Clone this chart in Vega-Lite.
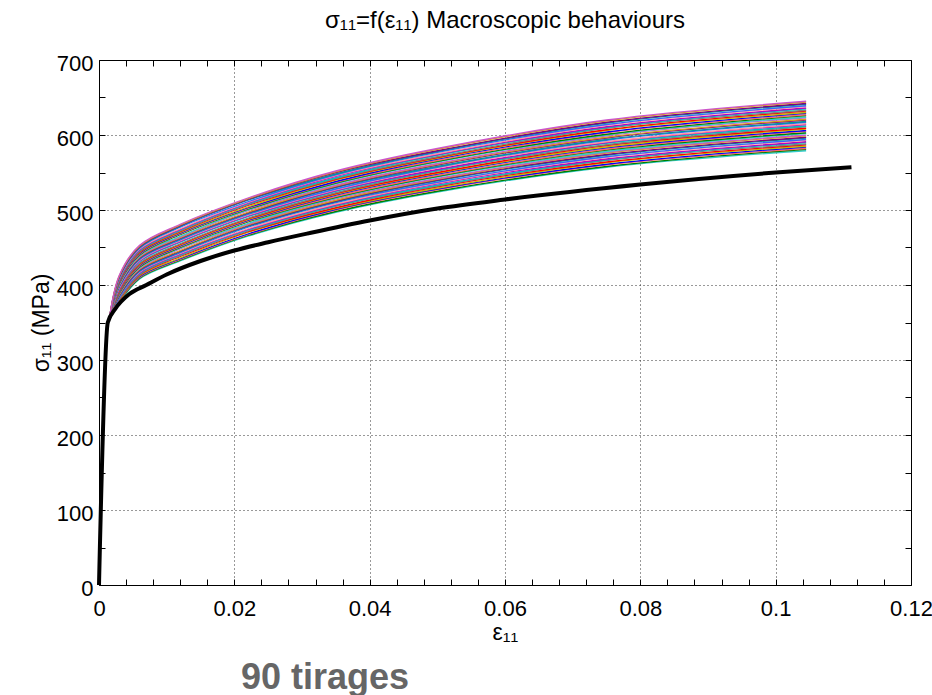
{
"$schema": "https://vega.github.io/schema/vega-lite/v6.json",
"width": 812, "height": 525,
"autosize": "none",
"padding": {"left": 99, "top": 60, "right": 21, "bottom": 110},
"background": "white",
"title": {"text": "σ₁₁=f(ε₁₁) Macroscopic behaviours", "fontSize": 24, "font": "Liberation Sans", "fontWeight": "normal", "color": "black", "offset": 19, "anchor": "middle"},
"config": {"view": {"stroke": null}, "axis": {"labelFont": "Liberation Sans", "titleFont": "Liberation Sans", "labelColor": "black", "titleColor": "black", "domainColor": "black", "tickColor": "black", "domainWidth": 1, "tickWidth": 1}},
"datasets": {
"runs": [
{"c":0,"x":0.0015,"y":353},{"c":0,"x":0.003,"y":376},{"c":0,"x":0.006,"y":408},{"c":0,"x":0.012,"y":432},{"c":0,"x":0.022,"y":465},{"c":0,"x":0.035,"y":497},{"c":0,"x":0.05,"y":524},{"c":0,"x":0.075,"y":557},{"c":0,"x":0.1045,"y":579},
{"c":1,"x":0.0015,"y":353},{"c":1,"x":0.003,"y":377},{"c":1,"x":0.006,"y":409},{"c":1,"x":0.012,"y":433},{"c":1,"x":0.022,"y":466},{"c":1,"x":0.035,"y":498},{"c":1,"x":0.05,"y":525},{"c":1,"x":0.075,"y":558},{"c":1,"x":0.1045,"y":581},
{"c":2,"x":0.0015,"y":353},{"c":2,"x":0.003,"y":378},{"c":2,"x":0.006,"y":410},{"c":2,"x":0.012,"y":434},{"c":2,"x":0.022,"y":467},{"c":2,"x":0.035,"y":500},{"c":2,"x":0.05,"y":527},{"c":2,"x":0.075,"y":560},{"c":2,"x":0.1045,"y":582},
{"c":3,"x":0.0015,"y":353},{"c":3,"x":0.003,"y":379},{"c":3,"x":0.006,"y":411},{"c":3,"x":0.012,"y":435},{"c":3,"x":0.022,"y":468},{"c":3,"x":0.035,"y":501},{"c":3,"x":0.05,"y":528},{"c":3,"x":0.075,"y":561},{"c":3,"x":0.1045,"y":584},
{"c":4,"x":0.0015,"y":353},{"c":4,"x":0.003,"y":379},{"c":4,"x":0.006,"y":412},{"c":4,"x":0.012,"y":436},{"c":4,"x":0.022,"y":470},{"c":4,"x":0.035,"y":502},{"c":4,"x":0.05,"y":529},{"c":4,"x":0.075,"y":563},{"c":4,"x":0.1045,"y":585},
{"c":5,"x":0.0015,"y":353},{"c":5,"x":0.003,"y":380},{"c":5,"x":0.006,"y":413},{"c":5,"x":0.012,"y":438},{"c":5,"x":0.022,"y":471},{"c":5,"x":0.035,"y":503},{"c":5,"x":0.05,"y":531},{"c":5,"x":0.075,"y":564},{"c":5,"x":0.1045,"y":587},
{"c":6,"x":0.0015,"y":353},{"c":6,"x":0.003,"y":381},{"c":6,"x":0.006,"y":414},{"c":6,"x":0.012,"y":439},{"c":6,"x":0.022,"y":472},{"c":6,"x":0.035,"y":505},{"c":6,"x":0.05,"y":532},{"c":6,"x":0.075,"y":566},{"c":6,"x":0.1045,"y":588},
{"c":7,"x":0.0015,"y":353},{"c":7,"x":0.003,"y":382},{"c":7,"x":0.006,"y":415},{"c":7,"x":0.012,"y":440},{"c":7,"x":0.022,"y":473},{"c":7,"x":0.035,"y":506},{"c":7,"x":0.05,"y":533},{"c":7,"x":0.075,"y":567},{"c":7,"x":0.1045,"y":590},
{"c":8,"x":0.0015,"y":353},{"c":8,"x":0.003,"y":383},{"c":8,"x":0.006,"y":416},{"c":8,"x":0.012,"y":441},{"c":8,"x":0.022,"y":474},{"c":8,"x":0.035,"y":507},{"c":8,"x":0.05,"y":535},{"c":8,"x":0.075,"y":568},{"c":8,"x":0.1045,"y":591},
{"c":9,"x":0.0015,"y":353},{"c":9,"x":0.003,"y":384},{"c":9,"x":0.006,"y":417},{"c":9,"x":0.012,"y":442},{"c":9,"x":0.022,"y":475},{"c":9,"x":0.035,"y":508},{"c":9,"x":0.05,"y":536},{"c":9,"x":0.075,"y":570},{"c":9,"x":0.1045,"y":593},
{"c":10,"x":0.0015,"y":353},{"c":10,"x":0.003,"y":384},{"c":10,"x":0.006,"y":418},{"c":10,"x":0.012,"y":443},{"c":10,"x":0.022,"y":477},{"c":10,"x":0.035,"y":510},{"c":10,"x":0.05,"y":537},{"c":10,"x":0.075,"y":571},{"c":10,"x":0.1045,"y":594},
{"c":11,"x":0.0015,"y":353},{"c":11,"x":0.003,"y":385},{"c":11,"x":0.006,"y":419},{"c":11,"x":0.012,"y":444},{"c":11,"x":0.022,"y":478},{"c":11,"x":0.035,"y":511},{"c":11,"x":0.05,"y":539},{"c":11,"x":0.075,"y":573},{"c":11,"x":0.1045,"y":596},
{"c":12,"x":0.0015,"y":353},{"c":12,"x":0.003,"y":386},{"c":12,"x":0.006,"y":420},{"c":12,"x":0.012,"y":445},{"c":12,"x":0.022,"y":479},{"c":12,"x":0.035,"y":512},{"c":12,"x":0.05,"y":540},{"c":12,"x":0.075,"y":574},{"c":12,"x":0.1045,"y":597},
{"c":13,"x":0.0015,"y":353},{"c":13,"x":0.003,"y":387},{"c":13,"x":0.006,"y":421},{"c":13,"x":0.012,"y":446},{"c":13,"x":0.022,"y":480},{"c":13,"x":0.035,"y":513},{"c":13,"x":0.05,"y":541},{"c":13,"x":0.075,"y":576},{"c":13,"x":0.1045,"y":599},
{"c":14,"x":0.0015,"y":353},{"c":14,"x":0.003,"y":388},{"c":14,"x":0.006,"y":422},{"c":14,"x":0.012,"y":448},{"c":14,"x":0.022,"y":481},{"c":14,"x":0.035,"y":515},{"c":14,"x":0.05,"y":542},{"c":14,"x":0.075,"y":577},{"c":14,"x":0.1045,"y":600},
{"c":15,"x":0.0015,"y":353},{"c":15,"x":0.003,"y":389},{"c":15,"x":0.006,"y":423},{"c":15,"x":0.012,"y":449},{"c":15,"x":0.022,"y":482},{"c":15,"x":0.035,"y":516},{"c":15,"x":0.05,"y":544},{"c":15,"x":0.075,"y":578},{"c":15,"x":0.1045,"y":602},
{"c":16,"x":0.0015,"y":353},{"c":16,"x":0.003,"y":389},{"c":16,"x":0.006,"y":424},{"c":16,"x":0.012,"y":450},{"c":16,"x":0.022,"y":484},{"c":16,"x":0.035,"y":517},{"c":16,"x":0.05,"y":545},{"c":16,"x":0.075,"y":580},{"c":16,"x":0.1045,"y":603},
{"c":17,"x":0.0015,"y":353},{"c":17,"x":0.003,"y":390},{"c":17,"x":0.006,"y":425},{"c":17,"x":0.012,"y":451},{"c":17,"x":0.022,"y":485},{"c":17,"x":0.035,"y":518},{"c":17,"x":0.05,"y":546},{"c":17,"x":0.075,"y":581},{"c":17,"x":0.1045,"y":605},
{"c":18,"x":0.0015,"y":353},{"c":18,"x":0.003,"y":391},{"c":18,"x":0.006,"y":426},{"c":18,"x":0.012,"y":452},{"c":18,"x":0.022,"y":486},{"c":18,"x":0.035,"y":520},{"c":18,"x":0.05,"y":548},{"c":18,"x":0.075,"y":583},{"c":18,"x":0.1045,"y":606},
{"c":19,"x":0.0015,"y":353},{"c":19,"x":0.003,"y":392},{"c":19,"x":0.006,"y":427},{"c":19,"x":0.012,"y":453},{"c":19,"x":0.022,"y":487},{"c":19,"x":0.035,"y":521},{"c":19,"x":0.05,"y":549},{"c":19,"x":0.075,"y":584},{"c":19,"x":0.1045,"y":608},
{"c":20,"x":0.0015,"y":353},{"c":20,"x":0.003,"y":393},{"c":20,"x":0.006,"y":428},{"c":20,"x":0.012,"y":454},{"c":20,"x":0.022,"y":488},{"c":20,"x":0.035,"y":522},{"c":20,"x":0.05,"y":550},{"c":20,"x":0.075,"y":586},{"c":20,"x":0.1045,"y":609},
{"c":21,"x":0.0015,"y":353},{"c":21,"x":0.003,"y":394},{"c":21,"x":0.006,"y":429},{"c":21,"x":0.012,"y":455},{"c":21,"x":0.022,"y":489},{"c":21,"x":0.035,"y":523},{"c":21,"x":0.05,"y":552},{"c":21,"x":0.075,"y":587},{"c":21,"x":0.1045,"y":611},
{"c":22,"x":0.0015,"y":353},{"c":22,"x":0.003,"y":395},{"c":22,"x":0.006,"y":431},{"c":22,"x":0.012,"y":457},{"c":22,"x":0.022,"y":491},{"c":22,"x":0.035,"y":525},{"c":22,"x":0.05,"y":553},{"c":22,"x":0.075,"y":589},{"c":22,"x":0.1045,"y":612},
{"c":23,"x":0.0015,"y":353},{"c":23,"x":0.003,"y":395},{"c":23,"x":0.006,"y":432},{"c":23,"x":0.012,"y":458},{"c":23,"x":0.022,"y":492},{"c":23,"x":0.035,"y":526},{"c":23,"x":0.05,"y":554},{"c":23,"x":0.075,"y":590},{"c":23,"x":0.1045,"y":614},
{"c":24,"x":0.0015,"y":353},{"c":24,"x":0.003,"y":396},{"c":24,"x":0.006,"y":433},{"c":24,"x":0.012,"y":459},{"c":24,"x":0.022,"y":493},{"c":24,"x":0.035,"y":527},{"c":24,"x":0.05,"y":556},{"c":24,"x":0.075,"y":591},{"c":24,"x":0.1045,"y":615},
{"c":25,"x":0.0015,"y":353},{"c":25,"x":0.003,"y":397},{"c":25,"x":0.006,"y":434},{"c":25,"x":0.012,"y":460},{"c":25,"x":0.022,"y":494},{"c":25,"x":0.035,"y":528},{"c":25,"x":0.05,"y":557},{"c":25,"x":0.075,"y":593},{"c":25,"x":0.1045,"y":617},
{"c":26,"x":0.0015,"y":353},{"c":26,"x":0.003,"y":398},{"c":26,"x":0.006,"y":435},{"c":26,"x":0.012,"y":461},{"c":26,"x":0.022,"y":495},{"c":26,"x":0.035,"y":530},{"c":26,"x":0.05,"y":558},{"c":26,"x":0.075,"y":594},{"c":26,"x":0.1045,"y":618},
{"c":27,"x":0.0015,"y":353},{"c":27,"x":0.003,"y":399},{"c":27,"x":0.006,"y":436},{"c":27,"x":0.012,"y":462},{"c":27,"x":0.022,"y":496},{"c":27,"x":0.035,"y":531},{"c":27,"x":0.05,"y":560},{"c":27,"x":0.075,"y":596},{"c":27,"x":0.1045,"y":620},
{"c":28,"x":0.0015,"y":353},{"c":28,"x":0.003,"y":400},{"c":28,"x":0.006,"y":437},{"c":28,"x":0.012,"y":463},{"c":28,"x":0.022,"y":497},{"c":28,"x":0.035,"y":532},{"c":28,"x":0.05,"y":561},{"c":28,"x":0.075,"y":597},{"c":28,"x":0.1045,"y":621},
{"c":29,"x":0.0015,"y":353},{"c":29,"x":0.003,"y":400},{"c":29,"x":0.006,"y":438},{"c":29,"x":0.012,"y":464},{"c":29,"x":0.022,"y":499},{"c":29,"x":0.035,"y":533},{"c":29,"x":0.05,"y":562},{"c":29,"x":0.075,"y":599},{"c":29,"x":0.1045,"y":623},
{"c":30,"x":0.0015,"y":353},{"c":30,"x":0.003,"y":401},{"c":30,"x":0.006,"y":439},{"c":30,"x":0.012,"y":465},{"c":30,"x":0.022,"y":500},{"c":30,"x":0.035,"y":535},{"c":30,"x":0.05,"y":564},{"c":30,"x":0.075,"y":600},{"c":30,"x":0.1045,"y":624},
{"c":31,"x":0.0015,"y":353},{"c":31,"x":0.003,"y":402},{"c":31,"x":0.006,"y":440},{"c":31,"x":0.012,"y":467},{"c":31,"x":0.022,"y":501},{"c":31,"x":0.035,"y":536},{"c":31,"x":0.05,"y":565},{"c":31,"x":0.075,"y":601},{"c":31,"x":0.1045,"y":626},
{"c":32,"x":0.0015,"y":353},{"c":32,"x":0.003,"y":403},{"c":32,"x":0.006,"y":441},{"c":32,"x":0.012,"y":468},{"c":32,"x":0.022,"y":502},{"c":32,"x":0.035,"y":537},{"c":32,"x":0.05,"y":566},{"c":32,"x":0.075,"y":603},{"c":32,"x":0.1045,"y":627},
{"c":33,"x":0.0015,"y":353},{"c":33,"x":0.003,"y":404},{"c":33,"x":0.006,"y":442},{"c":33,"x":0.012,"y":469},{"c":33,"x":0.022,"y":503},{"c":33,"x":0.035,"y":538},{"c":33,"x":0.05,"y":568},{"c":33,"x":0.075,"y":604},{"c":33,"x":0.1045,"y":629},
{"c":34,"x":0.0015,"y":353},{"c":34,"x":0.003,"y":405},{"c":34,"x":0.006,"y":443},{"c":34,"x":0.012,"y":470},{"c":34,"x":0.022,"y":504},{"c":34,"x":0.035,"y":540},{"c":34,"x":0.05,"y":569},{"c":34,"x":0.075,"y":606},{"c":34,"x":0.1045,"y":630},
{"c":35,"x":0.0015,"y":353},{"c":35,"x":0.003,"y":405},{"c":35,"x":0.006,"y":444},{"c":35,"x":0.012,"y":471},{"c":35,"x":0.022,"y":506},{"c":35,"x":0.035,"y":541},{"c":35,"x":0.05,"y":570},{"c":35,"x":0.075,"y":607},{"c":35,"x":0.1045,"y":632},
{"c":36,"x":0.0015,"y":353},{"c":36,"x":0.003,"y":406},{"c":36,"x":0.006,"y":445},{"c":36,"x":0.012,"y":472},{"c":36,"x":0.022,"y":507},{"c":36,"x":0.035,"y":542},{"c":36,"x":0.05,"y":571},{"c":36,"x":0.075,"y":609},{"c":36,"x":0.1045,"y":633},
{"c":37,"x":0.0015,"y":353},{"c":37,"x":0.003,"y":407},{"c":37,"x":0.006,"y":446},{"c":37,"x":0.012,"y":473},{"c":37,"x":0.022,"y":508},{"c":37,"x":0.035,"y":543},{"c":37,"x":0.05,"y":573},{"c":37,"x":0.075,"y":610},{"c":37,"x":0.1045,"y":635},
{"c":38,"x":0.0015,"y":353},{"c":38,"x":0.003,"y":408},{"c":38,"x":0.006,"y":447},{"c":38,"x":0.012,"y":474},{"c":38,"x":0.022,"y":509},{"c":38,"x":0.035,"y":545},{"c":38,"x":0.05,"y":574},{"c":38,"x":0.075,"y":611},{"c":38,"x":0.1045,"y":636},
{"c":39,"x":0.0015,"y":353},{"c":39,"x":0.003,"y":409},{"c":39,"x":0.006,"y":448},{"c":39,"x":0.012,"y":475},{"c":39,"x":0.022,"y":510},{"c":39,"x":0.035,"y":546},{"c":39,"x":0.05,"y":575},{"c":39,"x":0.075,"y":613},{"c":39,"x":0.1045,"y":638},
{"c":40,"x":0.0015,"y":353},{"c":40,"x":0.003,"y":410},{"c":40,"x":0.006,"y":449},{"c":40,"x":0.012,"y":477},{"c":40,"x":0.022,"y":511},{"c":40,"x":0.035,"y":547},{"c":40,"x":0.05,"y":577},{"c":40,"x":0.075,"y":614},{"c":40,"x":0.1045,"y":639},
{"c":41,"x":0.0015,"y":353},{"c":41,"x":0.003,"y":410},{"c":41,"x":0.006,"y":450},{"c":41,"x":0.012,"y":478},{"c":41,"x":0.022,"y":513},{"c":41,"x":0.035,"y":548},{"c":41,"x":0.05,"y":578},{"c":41,"x":0.075,"y":616},{"c":41,"x":0.1045,"y":641},
{"c":42,"x":0.0015,"y":353},{"c":42,"x":0.003,"y":411},{"c":42,"x":0.006,"y":451},{"c":42,"x":0.012,"y":479},{"c":42,"x":0.022,"y":514},{"c":42,"x":0.035,"y":550},{"c":42,"x":0.05,"y":579},{"c":42,"x":0.075,"y":617},{"c":42,"x":0.1045,"y":642},
{"c":43,"x":0.0015,"y":353},{"c":43,"x":0.003,"y":412},{"c":43,"x":0.006,"y":452},{"c":43,"x":0.012,"y":480},{"c":43,"x":0.022,"y":515},{"c":43,"x":0.035,"y":551},{"c":43,"x":0.05,"y":581},{"c":43,"x":0.075,"y":619},{"c":43,"x":0.1045,"y":644},
{"c":44,"x":0.0015,"y":353},{"c":44,"x":0.003,"y":413},{"c":44,"x":0.006,"y":453},{"c":44,"x":0.012,"y":481},{"c":44,"x":0.022,"y":516},{"c":44,"x":0.035,"y":552},{"c":44,"x":0.05,"y":582},{"c":44,"x":0.075,"y":620},{"c":44,"x":0.1045,"y":645}
],
"mean": [
{"x":0,"y":0},{"x":0.0013,"y":350},{"x":0.0024,"y":368},{"x":0.0045,"y":388},{"x":0.007,"y":400},{"x":0.01,"y":414},{"x":0.015,"y":432},{"x":0.02,"y":446},{"x":0.025,"y":457},{"x":0.031,"y":469},{"x":0.04,"y":486},{"x":0.05,"y":502},{"x":0.06,"y":514},{"x":0.08,"y":534},{"x":0.1,"y":550},{"x":0.1112,"y":557}
],
"note": [{"label": "90 tirages"}]
},
"layer": [
{
"data": {"name": "runs"},
"mark": {"type": "line", "strokeWidth": 1.3, "interpolate": "catmull-rom"},
"encoding": {
"x": {"field": "x", "type": "quantitative", "scale": {"domain": [0, 0.12], "nice": false, "zero": false},
"axis": {"orient": "bottom", "values": [0,0.004,0.008,0.012,0.016,0.02,0.024,0.028,0.032,0.036,0.04,0.044,0.048,0.052,0.056,0.06,0.064,0.068,0.072,0.076,0.08,0.084,0.088,0.092,0.096,0.1,0.104,0.108,0.112,0.116,0.12],
"labelExpr": "indexof([0,0.02,0.04,0.06,0.08,0.1,0.12], datum.value) >= 0 ? format(datum.value, '~g') : ''",
"labelFontSize": 22, "labelPadding": 19, "labelFlush": false, "labelOverlap": false, "tickSize": -6,
"grid": true, "gridColor": "#333333", "gridDash": [1, 3], "gridWidth": 1,
"gridOpacity": {"condition": {"test": "indexof([0.02,0.04,0.06,0.08,0.1], datum.value) >= 0", "value": 1}, "value": 0},
"title": "ε₁₁", "titleFontSize": 23, "titleFontWeight": "normal", "titlePadding": 2}},
"y": {"field": "y", "type": "quantitative", "scale": {"domain": [0, 700], "nice": false, "zero": false},
"axis": {"orient": "left", "values": [0,50,100,150,200,250,300,350,400,450,500,550,600,650,700],
"labelExpr": "datum.value % 100 == 0 ? format(datum.value, 'd') : ''",
"labelFontSize": 22, "labelPadding": 12, "labelOffset": 3, "labelOverlap": false, "labelFlush": false, "tickSize": -6,
"grid": true, "gridColor": "#333333", "gridDash": [1, 3], "gridWidth": 1,
"gridOpacity": {"condition": {"test": "datum.value % 100 == 0 && datum.value > 0 && datum.value < 700", "value": 1}, "value": 0},
"title": "σ₁₁ (MPa)", "titleFontSize": 23, "titleFontWeight": "normal", "titlePadding": 3}},
"color": {"field": "c", "type": "nominal", "legend": null,
"scale": {"range": ["#33cccc","#008000","#ff6666","#0000ff","#bfbf00","#ff0000","#7f7f7f","#00bfbf","#bf00bf","#ff9999","#3366ff","#009999","#800080","#d4a017","#cc55cc"]}}
}
},
{
"data": {"name": "mean"},
"mark": {"type": "line", "color": "black", "strokeWidth": 4, "interpolate": "monotone"},
"encoding": {
"x": {"field": "x", "type": "quantitative",
"axis": {"orient": "top", "values": [0,0.004,0.008,0.012,0.016,0.02,0.024,0.028,0.032,0.036,0.04,0.044,0.048,0.052,0.056,0.06,0.064,0.068,0.072,0.076,0.08,0.084,0.088,0.092,0.096,0.1,0.104,0.108,0.112,0.116,0.12],
"labels": false, "tickSize": -6, "grid": false, "title": null}},
"y": {"field": "y", "type": "quantitative",
"axis": {"orient": "right", "values": [0,50,100,150,200,250,300,350,400,450,500,550,600,650,700],
"labels": false, "tickSize": -6, "grid": false, "title": null}}
}
},
{
"data": {"name": "note"},
"mark": {"type": "text", "font": "Liberation Sans", "fontSize": 36, "fontWeight": "bold", "color": "#666666", "align": "center", "baseline": "alphabetic", "clip": false},
"encoding": {
"text": {"field": "label"},
"x": {"datum": 0.0334, "type": "quantitative", "axis": null},
"y": {"datum": -138, "type": "quantitative", "axis": null}
}
}
],
"resolve": {"axis": {"x": "independent", "y": "independent"}}
}
